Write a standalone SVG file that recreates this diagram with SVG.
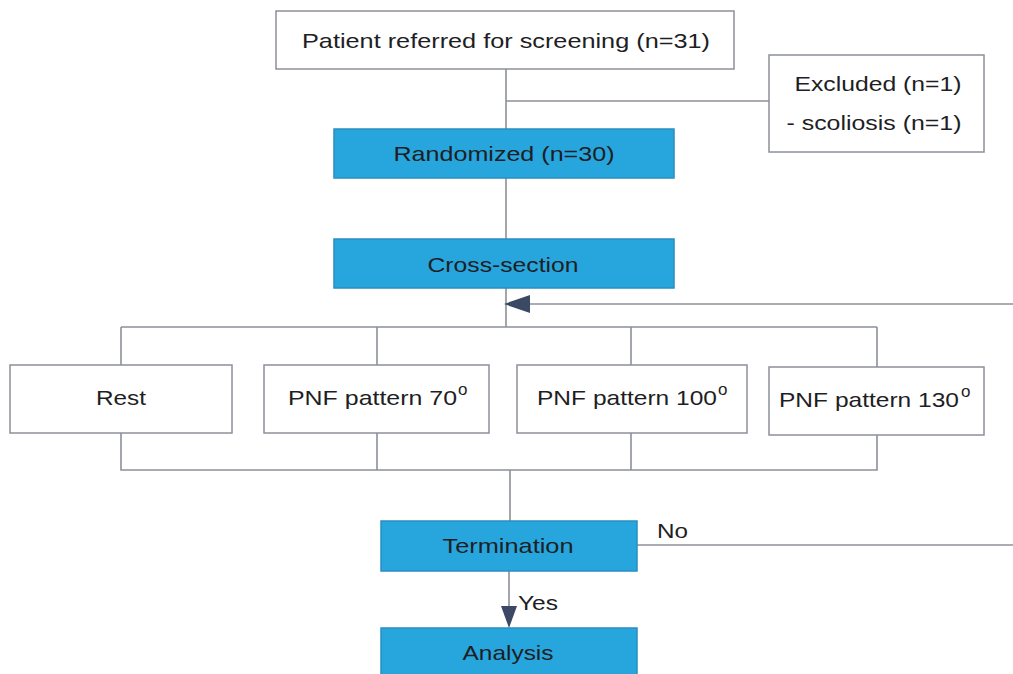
<svg xmlns="http://www.w3.org/2000/svg" width="1013" height="674" viewBox="0 0 1013 674">
<defs>
<style>
.box{fill:#ffffff;stroke:#8c9098;stroke-width:1.5}
.blue{fill:#27a5dd;stroke:#2a8fc0;stroke-width:1.5}
.t{font-family:"Liberation Sans",Arial,sans-serif;font-size:21px;fill:#1e1e24;text-anchor:middle}
.lbl{font-family:"Liberation Sans",Arial,sans-serif;font-size:21px;fill:#1e1e24}
.sup{font-family:"Liberation Sans",Arial,sans-serif;font-size:17px;fill:#1e1e24}
.ln{fill:none;stroke:#8c9098;stroke-width:1.6}
.ah{fill:#3c4964}
</style>
</defs>
<rect width="1013" height="674" fill="#ffffff"/>
<g id="connectors">
<path class="ln" d="M506 69 V129 M506 101 H769 M506 178 V239 M506 288 V327"/>
<path class="ln" d="M530 304 H1013"/>
<polygon class="ah" points="504,304 530,295 530,313"/>
<path class="ln" d="M121 327 H877 M121 327 V365 M377 327 V365 M631 327 V365 M877 327 V367"/>
<path class="ln" d="M121 433 V470 H877 V435 M377 433 V470 M631 433 V470 M510 470 V521"/>
<path class="ln" d="M637 545 H1013"/>
<path class="ln" d="M509 571 V607"/>
<polygon class="ah" points="501,606 517,606 509,628"/>
<text class="lbl" x="657" y="538" textLength="31" lengthAdjust="spacingAndGlyphs">No</text>
<text class="lbl" x="518" y="610" textLength="40" lengthAdjust="spacingAndGlyphs">Yes</text>
</g>
<g id="screening">
<rect class="box" x="276" y="11" width="458" height="58"/>
<text class="t" x="506" y="48" textLength="408" lengthAdjust="spacingAndGlyphs">Patient referred for screening (n=31)</text>
</g>
<g id="excluded">
<rect class="box" x="769" y="55" width="215" height="97"/>
<text class="t" x="878" y="91" textLength="167" lengthAdjust="spacingAndGlyphs">Excluded (n=1)</text>
<text class="t" x="874" y="130" textLength="175" lengthAdjust="spacingAndGlyphs">- scoliosis (n=1)</text>
</g>
<g id="randomized">
<rect class="blue" x="334" y="129" width="340" height="49"/>
<text class="t" x="504" y="161" textLength="221" lengthAdjust="spacingAndGlyphs">Randomized (n=30)</text>
</g>
<g id="cross-section">
<rect class="blue" x="334" y="239" width="340" height="49"/>
<text class="t" x="503" y="272" textLength="151" lengthAdjust="spacingAndGlyphs">Cross-section</text>
</g>
<g id="rest">
<rect class="box" x="10" y="365" width="222" height="68"/>
<text class="t" x="121" y="405" textLength="50" lengthAdjust="spacingAndGlyphs">Rest</text>
</g>
<g id="pnf70">
<rect class="box" x="264" y="365" width="225" height="68"/>
<text class="t" x="372.5" y="405" textLength="169" lengthAdjust="spacingAndGlyphs">PNF pattern 70</text>
<text class="sup" x="458" y="395">o</text>
</g>
<g id="pnf100">
<rect class="box" x="517" y="365" width="230" height="68"/>
<text class="t" x="627" y="405" textLength="180" lengthAdjust="spacingAndGlyphs">PNF pattern 100</text>
<text class="sup" x="718" y="395">o</text>
</g>
<g id="pnf130">
<rect class="box" x="769" y="367" width="215" height="68"/>
<text class="t" x="869" y="407" textLength="180" lengthAdjust="spacingAndGlyphs">PNF pattern 130</text>
<text class="sup" x="961" y="397">o</text>
</g>
<g id="termination">
<rect class="blue" x="381" y="521" width="256" height="50"/>
<text class="t" x="508" y="553" textLength="131" lengthAdjust="spacingAndGlyphs">Termination</text>
</g>
<g id="analysis">
<rect class="blue" x="381" y="628" width="256" height="60"/>
<text class="t" x="508" y="660" textLength="91" lengthAdjust="spacingAndGlyphs">Analysis</text>
</g>
</svg>
